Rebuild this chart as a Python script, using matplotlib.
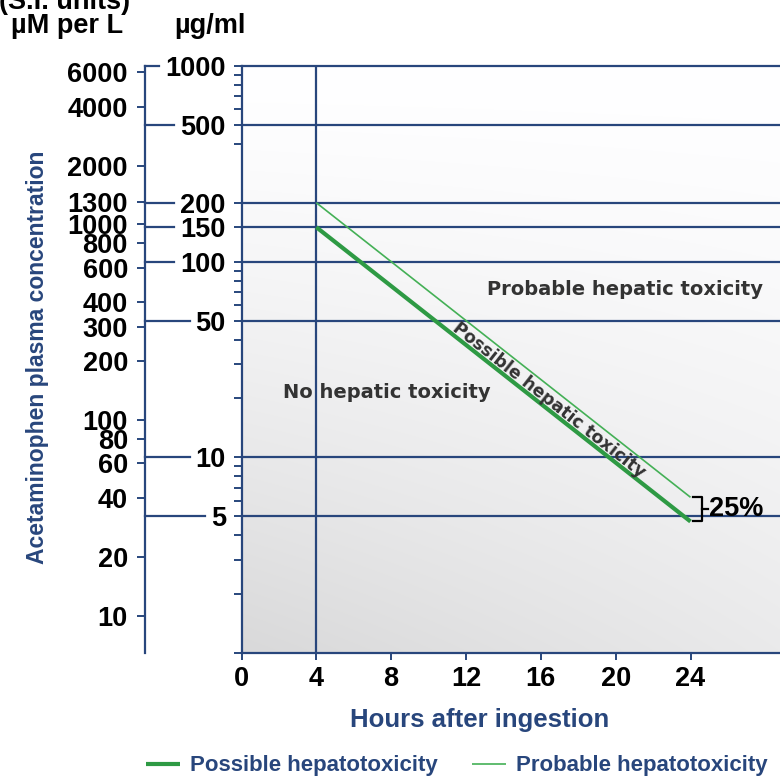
import math
import numpy as np
import matplotlib
matplotlib.use("Agg")
import matplotlib.pyplot as plt
from matplotlib.lines import Line2D
from matplotlib.transforms import IdentityTransform
from matplotlib.ticker import NullFormatter, NullLocator

plt.rcParams['font.family'] = ['Liberation Sans', 'DejaVu Sans']

# ---------------- data ----------------
hours_ticks = [0, 4, 8, 12, 16, 20, 24]
ug_major = [1000, 500, 200, 150, 100, 50, 10, 5]
ug_minor = [900, 800, 700, 600, 400, 90, 80, 70, 60, 40, 30, 20,
            9, 8, 7, 6, 4, 3, 2, 1]
um_ticks = [6000, 4000, 2000, 1300, 1000, 800, 600, 400, 300, 200,
            100, 80, 60, 40, 20, 10]
UG_TO_UM = 6.45

possible_hours = [4, 24]
possible_ugml = [150, 4.7]
probable_hours = [4, 24]
probable_ugml = [200, 6.25]

legend_labels = ["Possible hepatotoxicity", "Probable hepatotoxicity"]

# ---------------- style ----------------
NAVY = '#28467c'
GREEN_THICK = '#2e9a44'
GREEN_THIN = '#44b056'
TXT = '#333333'
W, H = 780, 776

fig = plt.figure(figsize=(W / 100, H / 100), dpi=100)
fig.patch.set_facecolor('white')
L, R, T, B = 241.5, 780, 66, 653
pos = [L / W, 1 - B / H, (R - L) / W, (B - T) / H]

# gradient background
bg = fig.add_axes(pos, zorder=0)
n = 300
u = np.linspace(0, 1, n)
U, V = np.meshgrid(u, u)
g = 1 - 0.15 * ((1 - V) ** 1.3) * (0.55 + 0.45 * (1 - U))
img = np.dstack([g, g, np.clip(g * 1.004, 0, 1)])
bg.imshow(img, origin='lower', extent=[0, 1, 0, 1], aspect='auto',
          interpolation='bilinear')
bg.set_axis_off()

ax = fig.add_axes(pos, zorder=1)
ax.set_facecolor('none')
ax.set_yscale('log')
ax.set_ylim(1, 1000)
ax.set_xlim(0, (R - L) / ((690.5 - L) / 24))

for v in ug_major:
    ax.axhline(v, color=NAVY, lw=1.6, zorder=2, clip_on=False)
ax.axvline(4, color=NAVY, lw=1.6, zorder=2)

for s in ['top', 'right']:
    ax.spines[s].set_visible(False)
for s in ['left', 'bottom']:
    ax.spines[s].set_color(NAVY)
    ax.spines[s].set_linewidth(1.6)

tickfont = dict(family=['Liberation Sans', 'DejaVu Sans'], weight='bold', size=19.5)
ax.set_yticks(ug_major)
ax.set_yticklabels([str(v) for v in ug_major], **tickfont)
ax.set_yticks(ug_minor, minor=True)
ax.yaxis.set_minor_formatter(NullFormatter())
ax.tick_params(axis='y', which='both', direction='out', length=5.8,
               width=1.4, color=NAVY, pad=5.5)
ax.set_xticks(hours_ticks)
ax.set_xticklabels([str(v) for v in hours_ticks], **tickfont)
ax.tick_params(axis='x', direction='out', length=5, width=1.4,
               color=NAVY, pad=4.5)

l1, = ax.plot(possible_hours, possible_ugml, color=GREEN_THICK, lw=3.0,
              solid_capstyle='butt', zorder=3)
l2, = ax.plot(probable_hours, probable_ugml, color=GREEN_THIN, lw=1.2,
              solid_capstyle='butt', zorder=3)

# secondary (micromolar) axis
sec = ax.secondary_yaxis((145 - L) / (R - L),
                         functions=(lambda y: y * UG_TO_UM,
                                    lambda y: y / UG_TO_UM))
sec.set_yticks(um_ticks)
sec.set_yticklabels([str(v) for v in um_ticks], **tickfont)
sec.yaxis.set_minor_locator(NullLocator())
sec.tick_params(axis='y', direction='out', length=5.8, width=1.4,
                color=NAVY, pad=6.5)
sec.spines['left'].set_color(NAVY)
sec.spines['left'].set_linewidth(1.6)

# region labels
regfont = dict(family='DejaVu Sans', weight='bold', size=14, color=TXT)
ax.text(20.5, 72, "Probable hepatic toxicity", ha='center', va='center', **regfont)
ax.text(7.75, 21.4, "No hepatic toxicity", ha='center', va='center', **regfont)

p1 = ax.transData.transform((possible_hours[0], possible_ugml[0]))
p2 = ax.transData.transform((possible_hours[1], possible_ugml[1]))
ang = math.degrees(math.atan2(p2[1] - p1[1], p2[0] - p1[0]))
ax.text(16.45, 19.7, "Possible hepatic toxicity", rotation=ang,
        rotation_mode='anchor', ha='center', va='center',
        family='DejaVu Sans', weight='bold', size=12.5, color=TXT)

# axis titles and headers
fig.text(38 / W, 1 - 357 / H, "Acetaminophen plasma concentration",
         rotation=90, ha='center', va='center', color=NAVY,
         weight='bold', size=16.5)
fig.text(480 / W, 1 - 727 / H, "Hours after ingestion", ha='center',
         va='baseline', color=NAVY, weight='bold', size=18.5)
fig.text(65 / W, 1 - 9 / H, "(S.I. units)", ha='center', va='baseline',
         weight='bold', size=19.5)
fig.text(67 / W, 1 - 33 / H, "µM per L", ha='center', va='baseline',
         weight='bold', size=19.5)
fig.text(210 / W, 1 - 33 / H, "µg/ml", ha='center', va='baseline',
         weight='bold', size=19.5)

# legend
leg = fig.legend([l1, l2], legend_labels, loc='center left',
                 bbox_to_anchor=(146 / W, 1 - 766 / H), ncol=2, frameon=False,
                 prop=dict(family='Liberation Sans', weight='bold', size=16),
                 handlelength=1.55, handletextpad=0.45, columnspacing=1.5,
                 borderpad=0, borderaxespad=0)
for tx in leg.get_texts():
    tx.set_color(NAVY)

fig.canvas.draw()
renderer = fig.canvas.get_renderer()

# leader lines from the micromolar spine to the µg/ml labels
sec_x = ax.transAxes.transform(((145 - L) / (R - L), 0))[0]
for v, lab in zip(ug_major, ax.yaxis.get_majorticklabels()):
    bb = lab.get_window_extent(renderer)
    y = ax.transData.transform((0, v))[1]
    fig.add_artist(Line2D([sec_x, bb.x0 - 6], [y, y], transform=IdentityTransform(),
                          color=NAVY, lw=1.6))

# 25% bracket
e_top = ax.transData.transform((probable_hours[-1], probable_ugml[-1]))
e_bot = ax.transData.transform((possible_hours[-1], possible_ugml[-1]))
x0 = max(e_top[0], e_bot[0]) + 2
x1 = x0 + 9
ym = (e_top[1] + e_bot[1]) / 2
fig.add_artist(Line2D([x0, x1, x1, x0], [e_top[1], e_top[1], e_bot[1], e_bot[1]],
                      transform=IdentityTransform(), color='black', lw=1.6))
fig.add_artist(Line2D([x1, x1 + 6], [ym, ym], transform=IdentityTransform(),
                      color='black', lw=1.6))
fig.text((x1 + 7) / W, ym / H, "25%", ha='left', va='center',
         weight='bold', size=19.5)

fig.savefig("out.png", dpi=100)
